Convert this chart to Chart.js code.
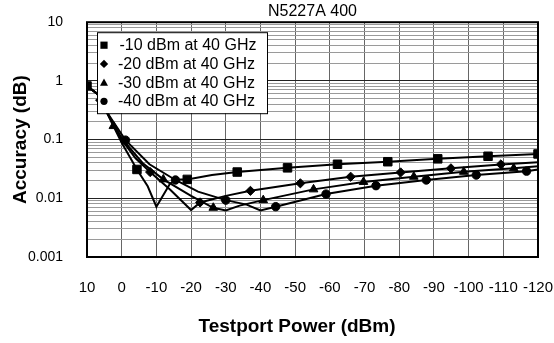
<!DOCTYPE html>
<html>
<head>
<meta charset="utf-8">
<script src="https://cdn.jsdelivr.net/npm/chart.js@4.4.1/dist/chart.umd.min.js"></script>
<style>
  html, body { margin: 0; padding: 0; background: #fff; }
</style>
</head>
<body>
<canvas id="chart_accuracy" width="554" height="343"></canvas>
<script>
const seriesNames = ['-10 dBm at 40 GHz', '-20 dBm at 40 GHz', '-30 dBm at 40 GHz', '-40 dBm at 40 GHz'];
const yDecades = [0.001, 0.01, 0.1, 1, 10];
const yTickLabels = ['0.001', '0.01', '0.1', '1', '10'];

// traced curves: testport power (dBm) -> accuracy (dB)
const curve10X = [10, 7, 4.2, 0, -4.4, -7.5, -10, -14, -17, -18.9, -26, -33.3, -47.8, -62.2, -76.7, -91.1, -105.6, -120];
const curve10Y = [0.82, 0.6, 0.28, 0.088, 0.031, 0.016, 0.0072, 0.018, 0.021, 0.021, 0.025, 0.028, 0.033, 0.038, 0.042, 0.047, 0.052, 0.057];
const curve20X = [10, 7, 4.2, 0, -4, -8.2, -14, -20, -22.6, -30, -37.1, -51.5, -66, -80.4, -94.9, -109.3, -120];
const curve20Y = [0.82, 0.6, 0.29, 0.1, 0.048, 0.028, 0.014, 0.0063, 0.0085, 0.011, 0.0134, 0.018, 0.0233, 0.0276, 0.0324, 0.0378, 0.041];
const curve30X = [10, 7, 4.2, 0, -6, -12, -20, -26.4, -30, -34, -40.8, -55.3, -69.7, -84.2, -98.6, -113, -120];
const curve30Y = [0.82, 0.6, 0.29, 0.105, 0.04, 0.021, 0.011, 0.0069, 0.0062, 0.0075, 0.0093, 0.0142, 0.019, 0.0233, 0.0283, 0.0324, 0.035];
const curve40X = [10, 7, 4.2, -1.1, -8, -15.5, -22, -30, -36, -40, -44.4, -58.9, -73.3, -87.8, -102.2, -116.7, -120];
const curve40Y = [0.82, 0.6, 0.29, 0.098, 0.038, 0.0205, 0.013, 0.0093, 0.0078, 0.0062, 0.0072, 0.0118, 0.0164, 0.0205, 0.0249, 0.029, 0.031];

// marker points
const mark10X = [10, -4.4, -18.9, -33.3, -47.8, -62.2, -76.7, -91.1, -105.6, -120];
const mark10Y = [0.82, 0.031, 0.021, 0.028, 0.033, 0.038, 0.042, 0.047, 0.052, 0.057];
const mark20X = [6.2, -8.2, -22.6, -37.1, -51.5, -66, -80.4, -94.9, -109.3];
const mark20Y = [0.47, 0.028, 0.0085, 0.0134, 0.018, 0.0233, 0.0276, 0.0324, 0.0378];
const mark30X = [2.4, -12, -26.4, -40.8, -55.3, -69.7, -84.2, -98.6, -113];
const mark30Y = [0.17, 0.021, 0.0069, 0.0093, 0.0142, 0.019, 0.0233, 0.0283, 0.0324];
const mark40X = [-1.1, -15.5, -30, -44.4, -58.9, -73.3, -87.8, -102.2, -116.7];
const mark40Y = [0.098, 0.0205, 0.0093, 0.0072, 0.0118, 0.0164, 0.0205, 0.0249, 0.029];

const FONT = "'Liberation Sans', Arial, sans-serif";
const pts = (xs, ys) => xs.map((x, i) => ({x: x, y: ys[i]}));

const curves = [pts(curve10X, curve10Y), pts(curve20X, curve20Y), pts(curve30X, curve30Y), pts(curve40X, curve40Y)];
const marks = [pts(mark10X, mark10Y), pts(mark20X, mark20Y), pts(mark30X, mark30Y), pts(mark40X, mark40Y)];
const styles = ['rect', 'rectRot', 'triangle', 'circle'];
const radii = [6, 4.6, 5, 4.2];

const datasets = [];
seriesNames.forEach((name, i) => {
    datasets.push({
        label: name,
        data: curves[i],
        borderColor: '#000',
        borderWidth: 2,
        pointRadius: 0,
        tension: 0,
        fill: false,
        order: 2
    });
    datasets.push({
        label: name,
        data: marks[i],
        showLine: false,
        pointStyle: styles[i],
        pointRadius: radii[i],
        backgroundColor: '#000',
        borderColor: '#000',
        borderWidth: 1,
        order: 1
    });
});

function drawMark(ctx, style, x, y, r) {
    ctx.beginPath();
    if (style === 'rect') {
        ctx.rect(x - r, y - r, 2 * r, 2 * r);
    } else if (style === 'rectRot') {
        ctx.moveTo(x, y - r); ctx.lineTo(x + r, y); ctx.lineTo(x, y + r); ctx.lineTo(x - r, y);
        ctx.closePath();
    } else if (style === 'triangle') {
        ctx.moveTo(x, y - r); ctx.lineTo(x + r * 0.95, y + r * 0.75); ctx.lineTo(x - r * 0.95, y + r * 0.75);
        ctx.closePath();
    } else {
        ctx.arc(x, y, r, 0, Math.PI * 2);
    }
    ctx.fill();
}

const boxPlugin = {
    id: 'boxPlugin',
    afterDatasetsDraw(chart) {
        const {ctx, chartArea: a} = chart;
        ctx.save();
        // plot frame
        ctx.strokeStyle = '#000';
        ctx.lineWidth = 2;
        ctx.strokeRect(a.left, a.top, a.right - a.left, a.bottom - a.top);
        // legend box
        const lx = a.left + 10, ly = a.top + 10, lw = 170, lh = 81;
        ctx.fillStyle = '#fff';
        ctx.fillRect(lx, ly, lw, lh);
        ctx.lineWidth = 1;
        ctx.strokeRect(lx + 0.5, ly + 0.5, lw, lh);
        ctx.fillStyle = '#000';
        ctx.font = '16px ' + FONT;
        ctx.textBaseline = 'middle';
        ctx.textAlign = 'left';
        seriesNames.forEach((name, i) => {
            const cy = ly + 13 + i * 18.7;
            drawMark(ctx, styles[i], lx + 7, cy, [3.6, 4.2, 4.2, 3.6][i]);
            ctx.fillText(name, lx + 21 + (i === 0 ? 1.5 : 0), cy + 0.5);
        });
        // x axis title
        ctx.font = 'bold 19px ' + FONT;
        ctx.textAlign = 'center';
        ctx.fillText('Testport Power (dBm)', 297, 327);
        ctx.restore();
    }
};

const ctxChart = document.getElementById('chart_accuracy').getContext('2d');

const accuracyChart = new Chart(ctxChart, {
    type: 'line',
    data: { datasets: datasets },
    options: {
        responsive: false,
        animation: false,
        layout: { padding: { top: 0, right: 16, bottom: 0, left: 0 } },
        plugins: {
            legend: { display: false },
            tooltip: { enabled: false },
            title: {
                display: true,
                text: 'N5227A 400',
                fullSize: false,
                color: '#000',
                font: { family: FONT, size: 16, weight: 'normal' },
                padding: { top: 2, bottom: 1 }
            }
        },
        scales: {
            x: {
                type: 'linear',
                reverse: true,
                min: -120,
                max: 10,
                afterFit: s => {
                    s.height = 86;
                    s.paddingLeft = 0;
                    s.paddingRight = 0;
                },
                border: { display: false },
                grid: { color: '#666', lineWidth: 1, drawTicks: false },
                ticks: {
                    stepSize: 10,
                    padding: 22,
                    color: '#000',
                    font: { family: FONT, size: 15 },
                    autoSkip: false,
                    maxRotation: 0
                }
            },
            y: {
                type: 'logarithmic',
                min: 0.001,
                max: 10,
                afterFit: s => {
                    s.width = 87;
                    s.paddingTop = 0;
                    s.paddingBottom = 0;
                },
                afterBuildTicks: s => {
                    const t = [];
                    yDecades.forEach((d, i) => {
                        t.push({value: d});
                        if (i < yDecades.length - 1) {
                            for (let m = 2; m <= 9; m++) t.push({value: m * d});
                        }
                    });
                    s.ticks = t;
                },
                border: { display: false },
                grid: {
                    drawTicks: false,
                    lineWidth: 1,
                    color: c => (c.tick && yDecades.includes(c.tick.value)) ? '#222' : '#9a9a9a'
                },
                ticks: {
                    autoSkip: false,
                    padding: 24,
                    color: '#000',
                    font: { family: FONT, size: 14 },
                    callback: v => {
                        const i = yDecades.indexOf(v);
                        return i >= 0 ? yTickLabels[i] : '';
                    }
                },
                title: {
                    display: true,
                    text: 'Accuracy (dB)',
                    color: '#000',
                    font: { family: FONT, size: 19, weight: 'bold' },
                    padding: { top: 9, bottom: 0 }
                }
            }
        }
    },
    plugins: [boxPlugin]
});
</script>
</body>
</html>
